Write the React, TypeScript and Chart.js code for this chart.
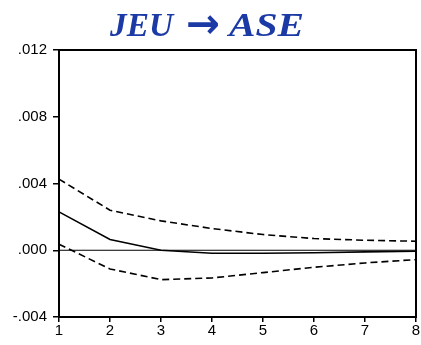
import React, { useEffect, useRef } from "react";
import { Chart, registerables } from "chart.js";

Chart.register(...registerables);

const titleLeft = "JEU";
const titleArrow = "\u2192";
const titleRight = "ASE";
const periods = ["1", "2", "3", "4", "5", "6", "7", "8"];
const upperBand = [0.00426, 0.0024, 0.00176, 0.0013, 0.00094, 0.0007, 0.0006, 0.00054];
const response = [0.0023, 0.00064, 0.0, -0.00018, -0.00018, -0.00015, -0.0001, -0.00006];
const lowerBand = [0.00036, -0.00112, -0.00176, -0.00166, -0.00134, -0.00102, -0.00076, -0.00056];
const zeroLine = [0, 0, 0, 0, 0, 0, 0, 0];
const yTickValues = [-0.004, 0, 0.004, 0.008, 0.012];
const yTickLabels = ["-.004", ".000", ".004", ".008", ".012"];

function fitText(ctx: any, text: string, x: number, y: number, width: number) {
  const w = ctx.measureText(text).width;
  ctx.save();
  ctx.translate(x, y);
  ctx.scale(width / w, 1);
  ctx.fillText(text, 0, 0);
  ctx.restore();
}

const framePlugin = {
  id: "frameAndTitle",
  afterDatasetsDraw(chart: any) {
    const { ctx, chartArea } = chart;
    ctx.save();
    ctx.strokeStyle = "#000";
    ctx.lineWidth = 2;
    ctx.strokeRect(chartArea.left, chartArea.top, chartArea.right - chartArea.left, chartArea.bottom - chartArea.top);
    ctx.restore();
  },
  afterDraw(chart: any) {
    const { ctx } = chart;
    ctx.save();
    ctx.fillStyle = "#1c3aa6";
    ctx.textBaseline = "alphabetic";
    ctx.textAlign = "left";
    ctx.font = "italic bold 34px 'Liberation Serif', 'Times New Roman', serif";
    fitText(ctx, titleLeft, 110, 36, 63);
    fitText(ctx, titleRight, 229, 36, 75);
    ctx.font = "bold 42px 'DejaVu Sans', sans-serif";
    fitText(ctx, titleArrow, 186, 38, 34);
    ctx.restore();
  },
};

export default function App() {
  const ref = useRef<HTMLCanvasElement>(null);
  useEffect(() => {
    const tickFont = { family: "'Liberation Sans', Arial, sans-serif", size: 15 };
    const chart = new Chart(ref.current!, {
      type: "line",
      data: {
        labels: periods,
        datasets: [
          { data: zeroLine, borderColor: "#000", borderWidth: 1, pointRadius: 0 },
          { data: upperBand, borderColor: "#000", borderWidth: 1.6, borderDash: [7, 4], pointRadius: 0 },
          { data: lowerBand, borderColor: "#000", borderWidth: 1.6, borderDash: [7, 4], pointRadius: 0 },
          { data: response, borderColor: "#000", borderWidth: 1.6, pointRadius: 0 },
        ],
      },
      options: {
        animation: false,
        responsive: false,
        layout: { padding: { top: 50, right: 5, left: 0, bottom: 0 } },
        plugins: { legend: { display: false }, tooltip: { enabled: false }, title: { display: false } },
        scales: {
          x: {
            offset: false,
            grid: { display: true, drawOnChartArea: false, drawTicks: true, tickLength: 5, color: "#000", lineWidth: 1.5 },
            border: { display: true, color: "#000", width: 2 },
            ticks: { color: "#000", font: tickFont, padding: 0, maxRotation: 0, autoSkip: false },
            afterFit: (s: any) => { s.height = 28; },
          },
          y: {
            min: -0.004,
            max: 0.012,
            afterBuildTicks: (s: any) => { s.ticks = yTickValues.map((v) => ({ value: v })); },
            grid: { display: true, drawOnChartArea: false, drawTicks: true, tickLength: 6, color: "#000", lineWidth: 1.5 },
            border: { display: true, color: "#000", width: 2 },
            ticks: {
              color: "#000",
              font: tickFont,
              padding: 6,
              callback: (v: any) => {
                const i = yTickValues.findIndex((t) => Math.abs(t - Number(v)) < 1e-9);
                return i >= 0 ? yTickLabels[i] : "";
              },
            },
            afterFit: (s: any) => { s.width = 59; },
          },
        },
      },
      plugins: [framePlugin],
    });
    return () => chart.destroy();
  }, []);
  return (
    <div style={{ position: "fixed", left: 0, top: 0, width: 421, height: 345, background: "#fff" }}>
      <canvas ref={ref} width={421} height={345} style={{ display: "block" }} />
    </div>
  );
}
